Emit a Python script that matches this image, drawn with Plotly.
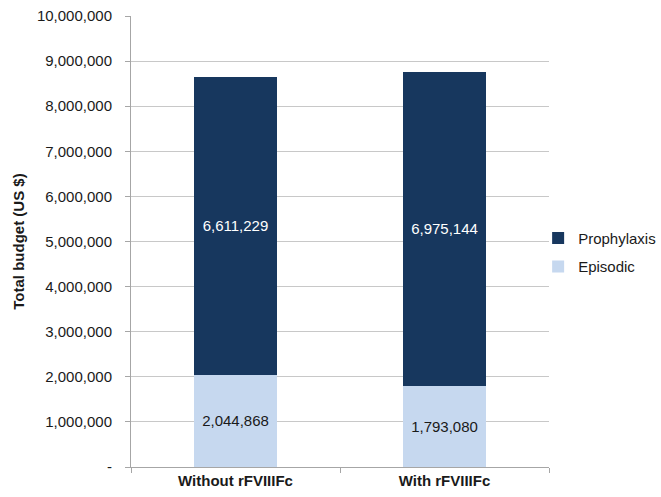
import plotly.graph_objects as go

categories = ["Without rFVIIIFc", "With rFVIIIFc"]
episodic = [2044868, 1793080]
prophylaxis = [6611229, 6975144]
tick_values = [0, 1000000, 2000000, 3000000, 4000000, 5000000, 6000000, 7000000, 8000000, 9000000, 10000000]
tick_labels = ["-", "1,000,000", "2,000,000", "3,000,000", "4,000,000", "5,000,000",
               "6,000,000", "7,000,000", "8,000,000", "9,000,000", "10,000,000"]

FONT = "Liberation Sans, Arial"

fig = go.Figure()
fig.add_trace(go.Bar(
    x=categories, y=episodic, name="Episodic", legendgroup="e", legendrank=2,
    marker=dict(color="#C6D8EF", line=dict(width=0)),
    text=[f"{v:,}" for v in episodic], textposition="inside", insidetextanchor="middle",
    textfont=dict(color="#1a1a1a", size=15, family=FONT),
))
fig.add_trace(go.Bar(
    x=categories, y=prophylaxis, name="Prophylaxis", legendgroup="p", legendrank=1,
    marker=dict(color="#17375E", line=dict(width=0)),
    text=[f"{v:,}" for v in prophylaxis], textposition="inside", insidetextanchor="middle",
    textfont=dict(color="white", size=15, family=FONT),
))

fig.update_layout(
    barmode="stack",
    bargap=0.6,
    width=661, height=497,
    margin=dict(l=131, r=112, t=16, b=30, autoexpand=False),
    plot_bgcolor="white", paper_bgcolor="white",
    font=dict(family=FONT, size=15, color="#1a1a1a"),
    uniformtext=dict(mode="show", minsize=10),
    legend=dict(
        x=0.974, y=0.476, xanchor="left", yanchor="middle",
        traceorder="grouped",
        font=dict(size=15, color="#1a1a1a"),
        itemwidth=30,
        tracegroupgap=6,
        bgcolor="rgba(0,0,0,0)",
    ),
    showlegend=True,
)
fig.update_yaxes(
    range=[0, 10000000],
    tickvals=tick_values, ticktext=tick_labels,
    showgrid=True, gridcolor="#C8C8C8", gridwidth=1,
    showline=True, linecolor="#A6A6A6", linewidth=1,
    ticks="outside", ticklen=5, tickcolor="#A6A6A6",
    ticklabelstandoff=10,
    zeroline=False,
    title=dict(text="<b>Total budget (US $)</b>", font=dict(size=15), standoff=8),
)
fig.update_xaxes(
    showline=True, linecolor="#A6A6A6", linewidth=1,
    ticks="outside", tickson="boundaries", ticklen=5, tickcolor="#A6A6A6",
    tickfont=dict(size=15),
    tickvals=categories,
    ticktext=[f"<b>{c}</b>" for c in categories],
)

fig.write_html("out.html")
